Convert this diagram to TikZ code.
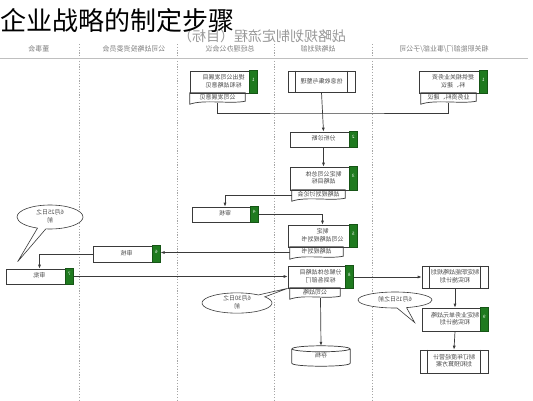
\documentclass[tikz,border=0pt]{standalone}
\usepackage{fontspec}
\setmainfont{Noto Sans CJK SC}
\usepackage{graphicx}
\usetikzlibrary{arrows.meta,shapes.callouts,fit}

\definecolor{linegray}{HTML}{3A3A3A}
\definecolor{tagreen}{HTML}{1F7A1F}
\definecolor{txtgray}{HTML}{4A4A4A}

% the flow chart is printed mirror-wise
\newcommand{\mir}[1]{\reflectbox{\begin{tabular}{@{}c@{}}#1\end{tabular}}}
\newcommand{\mirt}[1]{\mir{#1}\hspace{8pt}}

\tikzset{
  line/.style={draw=linegray, line width=0.7pt},
  arr/.style={line, -{Latex[length=4pt,width=3pt]}},
  box/.style={draw=linegray, line width=0.7pt, fill=white, rectangle, inner sep=1pt, text=txtgray, font=\fontsize{6}{7}\selectfont},
  doc/.style={rectangle, inner sep=1pt, text=txtgray, font=\fontsize{6}{7}\selectfont},
  tag/.style={draw=tagreen!70!black, fill=tagreen, text=white, inner sep=0pt, font=\fontsize{4.5}{5}\selectfont},
  lane/.style={gray!70, line width=0.6pt, dash pattern=on 1.2pt off 1.6pt},
  lanehead/.style={text=gray, font=\fontsize{7}{8}\selectfont, inner sep=0pt},
  note/.style={ellipse callout, draw=linegray, line width=0.6pt, fill=white, text=txtgray, inner sep=0pt, font=\fontsize{6}{7}\selectfont},
}

\begin{document}
\begin{tikzpicture}[x=1pt, y=-1pt]
  \useasboundingbox[fill=white] (0,0) rectangle (533,400);

  % swim lanes
  \foreach \x in {79,177,274,372}
    \draw[lane] (\x,44) -- (\x,400);
  \draw[gray!50, line width=0.6pt] (0,58) -- (528,58);

  \node[text=gray!80, font=\fontsize{14}{14}\selectfont, inner sep=0pt] (flow) at (262,36) {\reflectbox{战略规划制定流程（目标）}};
  \node[lanehead] (h1) at (39,50) {\mir{董事会}};
  \node[lanehead] (h2) at (134,50) {\mir{公司战略投资委员会}};
  \node[lanehead] (h3) at (230,50) {\mir{总经理办公会议}};
  \node[lanehead] (h4) at (318,50) {\mir{战略规划部}};
  \node[lanehead] (h5) at (444,50) {\mir{相关职能部门/事业部/子公司}};

  \node[inner sep=0pt, anchor=west, font=\fontsize{26}{26}\selectfont] (title) at (0,21) {企业战略的制定步骤};

  % steps
  \node[box, minimum width=68pt, minimum height=22pt] (b1) at (453,82) {\mirt{提供相关业务资\\料、建议}};
  \node[doc, minimum width=55pt, minimum height=10pt] (s1) at (448.5,98) {\mir{业务资料、建议}};
  \node[box, minimum width=67pt, minimum height=22pt] (c1) at (223.5,82) {\mirt{提出公司发展目\\标和战略意见}};
  \node[doc, minimum width=55pt, minimum height=10pt] (sc1) at (217.5,98) {\mir{公司发展意见}};
  \node[box, minimum width=67pt, minimum height=21pt] (d) at (321.5,81.5) {\mir{信息收集与整理}};
  \node[box, minimum width=67pt, minimum height=15pt] (b2) at (323.5,139.5) {\mirt{分析诊断}};
  \node[box, minimum width=67pt, minimum height=23pt] (b3) at (323.5,178.5) {\mirt{制定公司总体\\战略目标}};
  \node[doc, minimum width=53pt, minimum height=10pt] (s3) at (318.5,195) {\mir{战略规划讨论会}};
  \node[box, minimum width=66pt, minimum height=15pt] (b4) at (225,214.5) {\mirt{审核}};
  \node[box, minimum width=69pt, minimum height=22pt] (b5) at (322.5,236) {\mirt{制定\\公司战略规划书}};
  \node[doc, minimum width=53pt, minimum height=11pt] (s5) at (316.5,252.5) {\mir{战略规划书}};
  \node[box, minimum width=67pt, minimum height=16pt] (b6) at (126.5,254) {\mirt{审核}};
  \node[box, minimum width=67pt, minimum height=15pt] (b7) at (39.5,276.5) {\mirt{审批}};
  \node[box, minimum width=65pt, minimum height=22pt] (b8) at (320.5,277) {\mirt{分解总体战略目\\标到各部门}};
  \node[doc, minimum width=50pt, minimum height=10pt] (s8) at (315,293) {\mir{公司战略}};
  \node[box, minimum width=66pt, minimum height=22pt] (b9) at (455,277) {\mir{制定职能战略规划\\和实施计划}};
  \node[box, minimum width=66pt, minimum height=23pt] (b10) at (455,319.5) {\mirt{制定业务单元战略\\和实施计划}};
  \node[box, minimum width=68pt, minimum height=23pt] (b11) at (454,361.5) {\mir{制订年度经营计\\划和预算方案}};
  \node[inner sep=0pt, minimum width=58pt, minimum height=14pt, text=txtgray, font=\fontsize{6}{7}\selectfont] (cyl) at (321,356) {\mir{存档}};

  % green step numbers
  \foreach \b/\n in {b1/1,c1/1,b2/2,b3/3,b4/4,b5/5,b6/6,b7/7,b8/8,b10/9}
    \node[tag, fit={([xshift=-8pt]\b.north east) (\b.south east)}] (t\b) {\mir{\n}};

  % document outlines
  \foreach \s in {s1,sc1,s3,s5,s8}
    \draw[line] (\s.north west) -- (\s.north east) -- ([yshift=2pt]\s.south east)
      .. controls ([xshift=-14pt,yshift=-1pt]\s.south east) and ([xshift=14pt,yshift=4pt]\s.south west) .. ([yshift=-1pt]\s.south west) -- cycle;

  % predefined process bars
  \foreach \p in {d,b9,b11}{
    \draw[line] ([xshift=8pt]\p.north west) -- ([xshift=8pt]\p.south west);
    \draw[line] ([xshift=-8pt]\p.north east) -- ([xshift=-8pt]\p.south east);
  }

  % archive
  \draw[line] (cyl.north west) -- (cyl.south west) .. controls +(0,4) and +(0,4) .. (cyl.south east) -- (cyl.north east);
  \draw[line] (cyl.north) ellipse [x radius=29pt, y radius=3pt];

  % connectors
  \coordinate (m1) at (d.south |- 0,113);
  \draw[line] (sc1.south) |- (m1) -| (s1.south);
  \draw[arr] (d.south) -- (b2.north);
  \draw[arr] (b2.south) -- (b3.north);
  \draw[arr] (s3.west) -| (b4.north);
  \draw[arr] (tb4.east) -| (b5.north);
  \draw[arr] (s5.west) -- (s5.west -| tb6.east);
  \draw[arr] (b6.west) -| (b7.north);
  \draw[arr] (tb7.east) -- (tb7.east -| b8.west);
  \draw[arr] (tb8.east) -- (tb8.east -| b9.west);
  \draw[arr] (b9.south) -- (b10.north);
  \draw[arr] (b10.south) -- (b11.north);
  \draw[arr] (b8.south |- s8.south) -- ([yshift=3pt]cyl.north);

  % deadlines
  \node[note, minimum width=66pt, minimum height=24pt, callout absolute pointer={([xshift=12pt,yshift=7pt]b7.north west)}] (n1) at (50,217) {\mir{6月25日之\\前}};
  \node[note, minimum width=70pt, minimum height=18pt, callout absolute pointer={(b8.south west)}] (n2) at (237,303) {\mir{6月30日之\\前}};
  \node[note, minimum width=74pt, minimum height=16pt, callout absolute pointer={([xshift=-7pt,yshift=-3pt]b10.west)}] (n3) at (395,300) {\mir{6月15日之前}};
\end{tikzpicture}
\end{document}
